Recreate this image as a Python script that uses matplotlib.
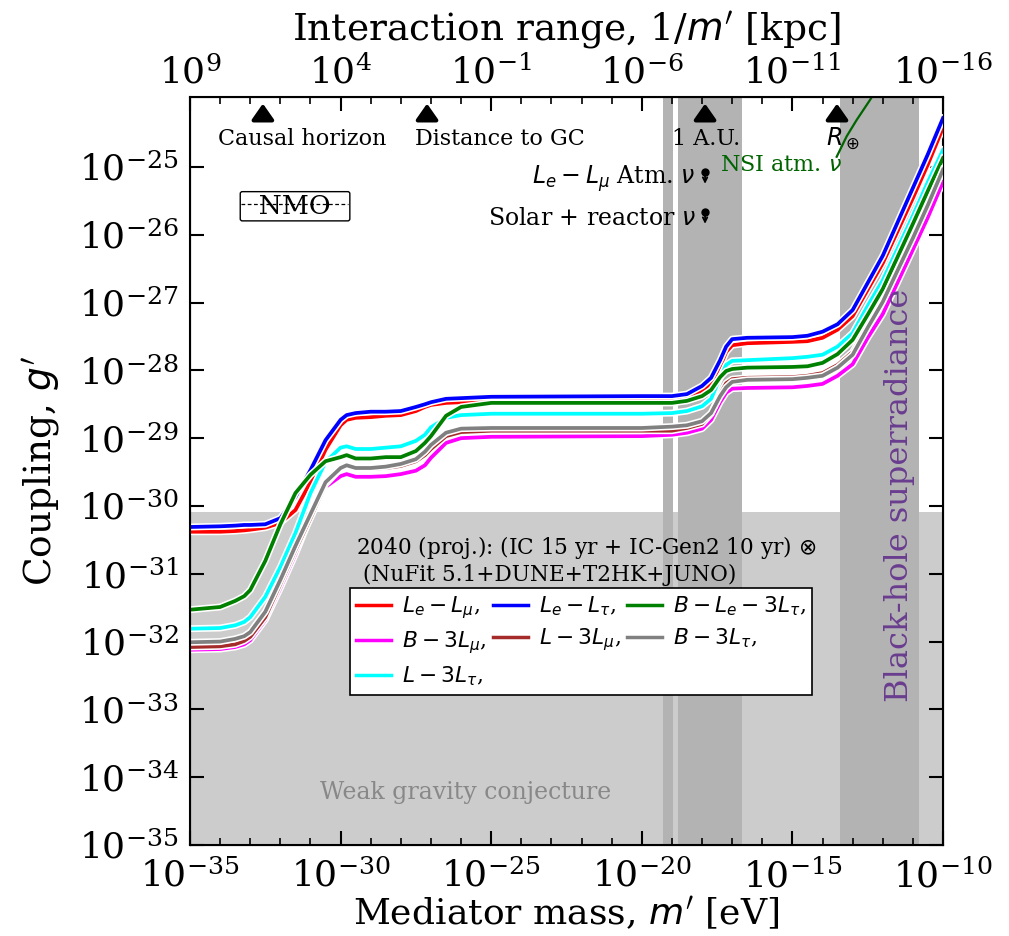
import numpy as np
import matplotlib.pyplot as plt
import matplotlib.patheffects as pe
import matplotlib.transforms as mtransforms
from matplotlib.ticker import NullFormatter

plt.rcParams['font.family'] = 'DejaVu Serif'
plt.rcParams['mathtext.fontset'] = 'dejavusans'

# log10 of mediator mass [eV], shared by all curves
log_m = np.array([-35, -34, -33.5, -33.2, -33, -32.5, -32, -31.5, -31, -30.5, -30, -29.8,
                  -29.5, -29, -28.5, -28, -27.5, -27.2, -27, -26.5, -26, -25,
                  -20, -19, -18.5, -18, -17.7, -17.4, -17.2, -17, -16.5, -15,
                  -14.5, -14, -13.5, -13, -12.5, -12, -11, -10.5, -10])

# log10 of coupling g' (2040 projection)
g_le_lmu = [-30.38, -30.38, -30.37, -30.36, -30.35, -30.32, -30.25, -30.06, -29.65, -29.17,
            -28.81, -28.73,
            -28.70, -28.69, -28.67, -28.66, -28.60, -28.54, -28.51, -28.48, -28.47, -28.47,
            -28.45, -28.45, -28.41, -28.30, -28.19, -27.94, -27.73, -27.63, -27.60, -27.58,
            -27.57, -27.52, -27.40, -27.20, -26.81, -26.42, -25.46, -24.96, -24.42]
g_le_ltau = [-30.31, -30.30, -30.29, -30.28, -30.28, -30.27, -30.18, -29.87, -29.47, -29.03,
             -28.73, -28.66,
             -28.63, -28.61, -28.61, -28.60, -28.54, -28.50, -28.47, -28.42, -28.41, -28.39,
             -28.38, -28.38, -28.35, -28.23, -28.11, -27.85, -27.65, -27.54, -27.52, -27.51,
             -27.49, -27.43, -27.32, -27.11, -26.71, -26.31, -25.31, -24.81, -24.28]
g_b_le_3ltau = [-31.53, -31.49, -31.40, -31.33, -31.24, -30.81, -30.27, -29.81, -29.54, -29.34,
                -29.28, -29.25,
                -29.30, -29.30, -29.28, -29.28, -29.19, -29.07, -28.97, -28.67, -28.54, -28.48,
                -28.48, -28.48, -28.45, -28.38, -28.29, -28.10, -28.01, -27.98, -27.96, -27.95,
                -27.94, -27.89, -27.76, -27.55, -27.18, -26.80, -25.84, -25.35, -24.87]
g_b_3lmu = [-32.12, -32.11, -32.08, -32.04, -31.98, -31.68, -31.21, -30.71, -30.16, -29.72,
            -29.56, -29.53,
            -29.57, -29.57, -29.56, -29.53, -29.48, -29.40, -29.29, -29.07, -29.00, -28.98,
            -28.97, -28.95, -28.92, -28.86, -28.73, -28.47, -28.33, -28.27, -28.26, -28.25,
            -28.23, -28.20, -28.08, -27.91, -27.52, -27.17, -26.22, -25.74, -25.22]
g_l_3lmu = [-32.08, -32.07, -32.04, -31.99, -31.93, -31.64, -31.15, -30.65, -30.18, -29.68,
            -29.45, -29.41,
            -29.45, -29.45, -29.44, -29.41, -29.34, -29.25, -29.16, -28.97, -28.91, -28.89,
            -28.89, -28.89, -28.85, -28.79, -28.64, -28.35, -28.19, -28.13, -28.11, -28.10,
            -28.08, -28.04, -27.92, -27.73, -27.33, -26.95, -26.00, -25.52, -25.00]
g_b_3ltau = [-32.01, -32.00, -31.96, -31.92, -31.86, -31.56, -31.09, -30.59, -30.12, -29.65,
             -29.44, -29.40,
             -29.44, -29.44, -29.42, -29.38, -29.31, -29.20, -29.10, -28.92, -28.86, -28.85,
             -28.85, -28.83, -28.81, -28.75, -28.63, -28.38, -28.25, -28.17, -28.14, -28.13,
             -28.11, -28.08, -27.96, -27.77, -27.37, -26.99, -26.05, -25.56, -25.04]
g_l_3ltau = [-31.81, -31.80, -31.76, -31.71, -31.64, -31.34, -30.90, -30.40, -29.81, -29.35,
             -29.14, -29.12,
             -29.16, -29.16, -29.14, -29.12, -29.04, -28.95, -28.84, -28.70, -28.66, -28.64,
             -28.64, -28.63, -28.60, -28.53, -28.42, -28.11, -27.92, -27.86, -27.85, -27.82,
             -27.80, -27.77, -27.65, -27.45, -27.05, -26.67, -25.72, -25.22, -24.75]

# NSI atmospheric limit (log10 m, log10 g)
nsi_log_m = [-13.53, -13.20, -12.87, -12.42, -12.20]
nsi_log_g = [-24.85, -24.55, -24.31, -24.01, -23.85]

# excluded / marked regions
wgc_log_g = -30.09
band_ranges = [(-19.30, -18.97), (-18.81, -16.67), (-13.42, -10.79)]
scales_log_m = [-32.58, -27.13, -17.90, -13.52]
limit_log_m = -17.90
limit_log_g = [-25.07, -25.66]

curves = [
    (g_le_lmu, 'red', r'$L_e-L_\mu$,'),
    (g_b_3lmu, 'magenta', r'$B-3L_\mu$,'),
    (g_l_3ltau, 'cyan', r'$L-3L_\tau$,'),
    (g_le_ltau, 'blue', r'$L_e-L_\tau$,'),
    (g_l_3lmu, 'brown', r'$L-3L_\mu$,'),
    (g_b_le_3ltau, 'green', r'$B-L_e-3L_\tau$,'),
    (g_b_3ltau, 'gray', r'$B-3L_\tau$,'),
]

fig = plt.figure(figsize=(10.09, 9.36), dpi=100)
ax = fig.add_axes([0.1883, 0.0972, 0.7463, 0.7991])
ax.set_xscale('log')
ax.set_yscale('log')
ax.set_xlim(1e-35, 1e-10)
ax.set_ylim(1e-35, 10**-23.97)

ax.axhspan(1e-35, 10**wgc_log_g, color='#cccccc', lw=0, zorder=0)
for lo, hi in band_ranges:
    ax.axvspan(10**lo, 10**hi, color='#b3b3b3', lw=0, zorder=1)

stroke = [pe.Stroke(linewidth=5, foreground='w'), pe.Normal()]
mm = 10**log_m
for g, c, lab in curves:
    ax.plot(mm, 10**np.array(g), color=c, lw=2.7, label=lab,
            path_effects=stroke, zorder=5)

ax.plot(10**np.array(nsi_log_m), 10**np.array(nsi_log_g), color='darkgreen', lw=1.6, zorder=5)
ax.text(10**-17.4, 10**-24.97, r'NSI atm. $\nu$', color='darkgreen', fontsize=16,
        va='center', ha='left', zorder=6)

ax.text(10**-25.84, 10**-34.23, 'Weak gravity conjecture', color='#888888',
        fontsize=17, ha='center', va='center', zorder=6)
ax.text(10**-11.43, 10**-29.84, 'Black-hole superradiance', color='#6a3d8f',
        fontsize=23, rotation=90, ha='center', va='center', zorder=6)

# top arrows marking length scales
trans = mtransforms.blended_transform_factory(ax.transData, ax.transAxes)
for xm in scales_log_m:
    ax.annotate('', xy=(10**xm, 0.995), xytext=(10**xm, 0.968), xycoords=trans,
                textcoords=trans,
                arrowprops=dict(arrowstyle='-|>,head_length=0.5,head_width=0.35',
                                color='k', lw=3, mutation_scale=19), zorder=7)
ax.text(10**-34.07, 0.944, 'Causal horizon', transform=trans, fontsize=16, va='center', ha='left')
ax.text(10**-27.53, 0.944, 'Distance to GC', transform=trans, fontsize=16, va='center', ha='left')
ax.text(10**-17.87, 0.944, '1 A.U.', transform=trans, fontsize=16, va='center', ha='center')
ax.text(10**-13.88, 0.944, r'$R_\oplus$', transform=trans, fontsize=17, va='center', ha='left')

# upper limits from oscillation experiments
for lg in limit_log_g:
    ax.plot(10**limit_log_m, 10**lg, 'o', color='k', ms=5, zorder=7)
    ax.annotate('', xy=(10**limit_log_m, 10**(lg - 0.22)), xytext=(10**limit_log_m, 10**lg),
                arrowprops=dict(arrowstyle='->', color='k', lw=1.3, mutation_scale=8), zorder=7)
ax.text(10**-18.22, 10**(limit_log_g[0] - 0.1), r'$L_e-L_\mu$ Atm. $\nu$', fontsize=17,
        ha='right', va='center')
ax.text(10**-18.22, 10**(limit_log_g[1] - 0.1), r'Solar + reactor $\nu$', fontsize=17,
        ha='right', va='center')

# NMO box with strike-through
ax.text(0.1395, 0.854, '  NMO  ', transform=ax.transAxes, fontsize=19, ha='center', va='center',
        bbox=dict(boxstyle='round,pad=0.08', fc='w', ec='k', lw=1), zorder=7)
ax.plot([0.068, 0.21], [0.857, 0.857], transform=ax.transAxes, color='k', lw=0.9,
        ls=(0, (3, 2)), zorder=8)

ax.text(0.22, 0.381, '2040 (proj.): (IC 15 yr + IC-Gen2 10 yr) $\\otimes$\n'
        ' (NuFit 5.1+DUNE+T2HK+JUNO)', transform=ax.transAxes, fontsize=15.6,
        ha='left', va='center', linespacing=1.15, zorder=7)

leg = ax.legend(loc='upper left', bbox_to_anchor=(0.212, 0.344), ncol=3, fontsize=15.7,
                fancybox=False, framealpha=1, edgecolor='k', handlelength=1.6,
                handletextpad=0.5, columnspacing=0.3, labelspacing=0.38,
                borderpad=0.3, borderaxespad=0)
leg.get_frame().set_linewidth(1.2)
leg.set_zorder(9)
for h in leg.get_lines():
    h.set_path_effects([])
    h.set_linewidth(2.5)

ax.set_xticks([10.0**k for k in range(-35, -9, 5)])
ax.set_xticks([10.0**k for k in range(-35, -9)], minor=True)
ax.xaxis.set_minor_formatter(NullFormatter())
ax.set_yticks([10.0**k for k in range(-35, -24)])
ax.set_yticks([], minor=True)
ax.tick_params(which='both', direction='in', labelsize=26, top=False, right=True, width=1.5)
ax.tick_params(which='major', length=10)
ax.tick_params(which='minor', length=5, width=1.2)
ax.tick_params(axis='x', pad=10)
ax.tick_params(axis='y', pad=8)
for s in ax.spines.values():
    s.set_linewidth(1.5)
ax.set_xlabel(r"Mediator mass, $m'$ [eV]", fontsize=26, labelpad=0)
ax.set_ylabel(r"Coupling, $g'$", fontsize=27, labelpad=12)

ax2 = ax.twiny()
ax2.set_xscale('log')
ax2.set_xlim(1e9, 1e-16)
ax2.set_xticks([10.0**k for k in range(9, -17, -5)])
ax2.set_xticks([10.0**k for k in range(9, -17, -1)], minor=True)
ax2.xaxis.set_minor_formatter(NullFormatter())
ax2.tick_params(which='both', direction='in', labelsize=26, width=1.5, pad=5)
ax2.tick_params(which='major', length=10)
ax2.tick_params(which='minor', length=5, width=1.2)
ax2.set_xlabel("Interaction range, 1/$m'$ [kpc]", fontsize=27, labelpad=10)

fig.savefig('out.png', dpi=100)
